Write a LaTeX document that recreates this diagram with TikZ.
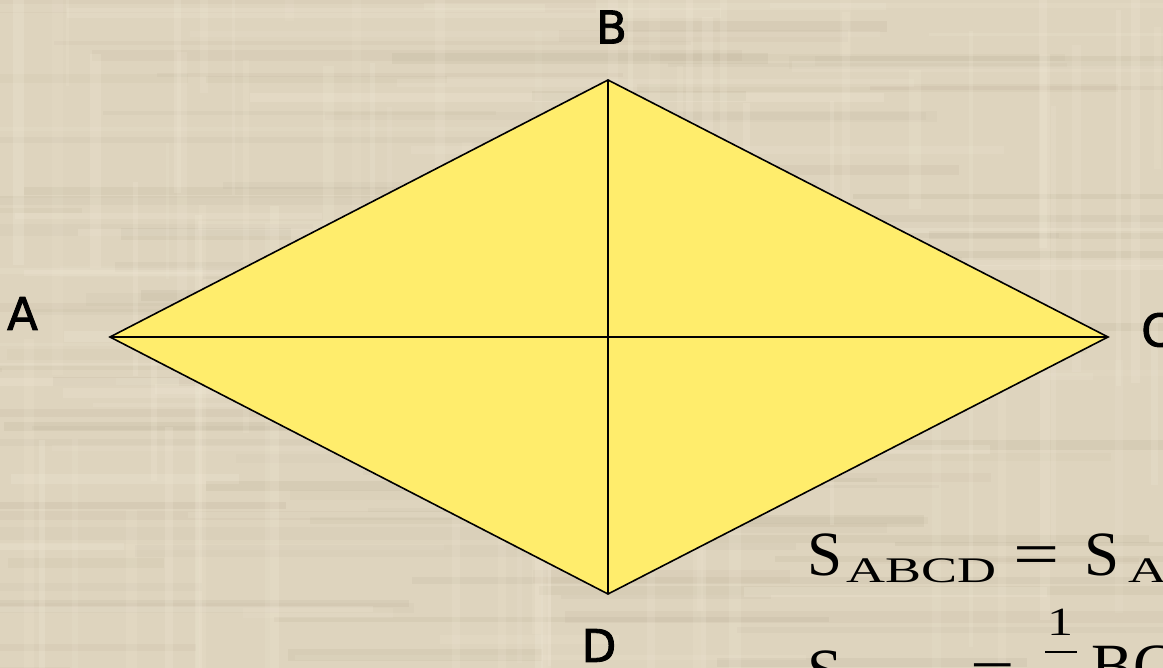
\documentclass[tikz,border=0pt]{standalone}
\usepackage{fontspec}
\usepackage{graphicx}
\setmainfont{Liberation Serif}
\newfontfamily\lblfont[FakeBold=2]{DejaVu Sans}
\definecolor{bgbase}{RGB}{222,212,190}
\definecolor{bgdark}{RGB}{170,158,132}
\definecolor{bglight}{RGB}{244,236,218}
\definecolor{rhyellow}{RGB}{255,237,108}
\tikzset{
  edge/.style={draw=black, line width=1.6pt, line join=miter},
  lbl/.style={font=\lblfont\fontsize{45}{45}\selectfont, inner sep=0pt, anchor=center},
  bigS/.style={font=\fontsize{63}{63}\selectfont, inner sep=0pt, anchor=base west},
  subS/.style={font=\fontsize{36}{36}\selectfont, inner sep=0pt, anchor=base west},
  numS/.style={font=\fontsize{40}{40}\selectfont, inner sep=0pt, anchor=base west}
}
\begin{document}
\begin{tikzpicture}[x=1pt,y=-1pt]
\useasboundingbox (0,0) rectangle (1163,668);
\clip (0,0) rectangle (1163,668);
\fill[bgbase] (0,0) rectangle (1163,668);
% textured background
\pgfmathsetseed{7}
\foreach \i in {1,...,90} {
  \pgfmathsetmacro{\yy}{rnd*668}
  \pgfmathsetmacro{\xx}{rnd*1163-200}
  \pgfmathsetmacro{\ll}{150+rnd*600}
  \pgfmathsetmacro{\hh}{3+rnd*10}
  \pgfmathsetmacro{\op}{0.05+rnd*0.10}
  \fill[bgdark, opacity=\op] (\xx,\yy) rectangle (\xx+\ll,\yy+\hh);
}
\foreach \i in {1,...,70} {
  \pgfmathsetmacro{\xx}{rnd*1163}
  \pgfmathsetmacro{\yy}{rnd*668-150}
  \pgfmathsetmacro{\ll}{120+rnd*500}
  \pgfmathsetmacro{\ww}{3+rnd*9}
  \pgfmathsetmacro{\op}{0.08+rnd*0.14}
  \fill[bglight, opacity=\op] (\xx,\yy) rectangle (\xx+\ww,\yy+\ll);
}
\foreach \i in {1,...,50} {
  \pgfmathsetmacro{\yy}{rnd*668}
  \pgfmathsetmacro{\xx}{rnd*1163-200}
  \pgfmathsetmacro{\ll}{150+rnd*600}
  \pgfmathsetmacro{\hh}{3+rnd*8}
  \pgfmathsetmacro{\op}{0.08+rnd*0.16}
  \fill[bglight, opacity=\op] (\xx,\yy) rectangle (\xx+\ll,\yy+\hh);
}
% rhombus
\coordinate (A) at (110,337);
\coordinate (B) at (608,80);
\coordinate (C) at (1108,337);
\coordinate (D) at (608,594);
\fill[rhyellow] (A) -- (B) -- (C) -- (D) -- cycle;
\draw[edge] (A) -- (B) -- (C) -- (D) -- cycle;
\draw[edge] (A) -- (C);
\draw[edge] (B) -- (D);
% vertex labels
\node[lbl] (lA) at (22.5,313.5) {A};
\node[lbl] (lB) at (611.5,27) {B};
\node[lbl] (lC) at (1157,330) {C};
\node[lbl] (lD) at (599,645.5) {D};
% formula line 1
\node[bigS] (s1) at (807,575) {S};
\node[subS] (s1sub) at (846,582) {\scalebox{1.5}[1]{ABCD}};
\node[bigS] (eq1) at (1013,575) {\scalebox{1.3}[1]{=}};
\node[bigS] (s2) at (1084,575) {S};
\node[subS] (s2sub) at (1128,582) {\scalebox{1.5}[1]{A}};
% formula line 2
\node[bigS] (s3) at (807,692) {S};
\node[bigS] (eq2) at (970,692) {\scalebox{1.25}[1]{=}};
\node[numS] (num) at (1047,635) {\scalebox{1.3}[1]{1}};
\draw[line width=2.4pt] (1045,652) -- (1077,652);
\node[bigS] (bc) at (1091,687) {BC};
\end{tikzpicture}
\end{document}
